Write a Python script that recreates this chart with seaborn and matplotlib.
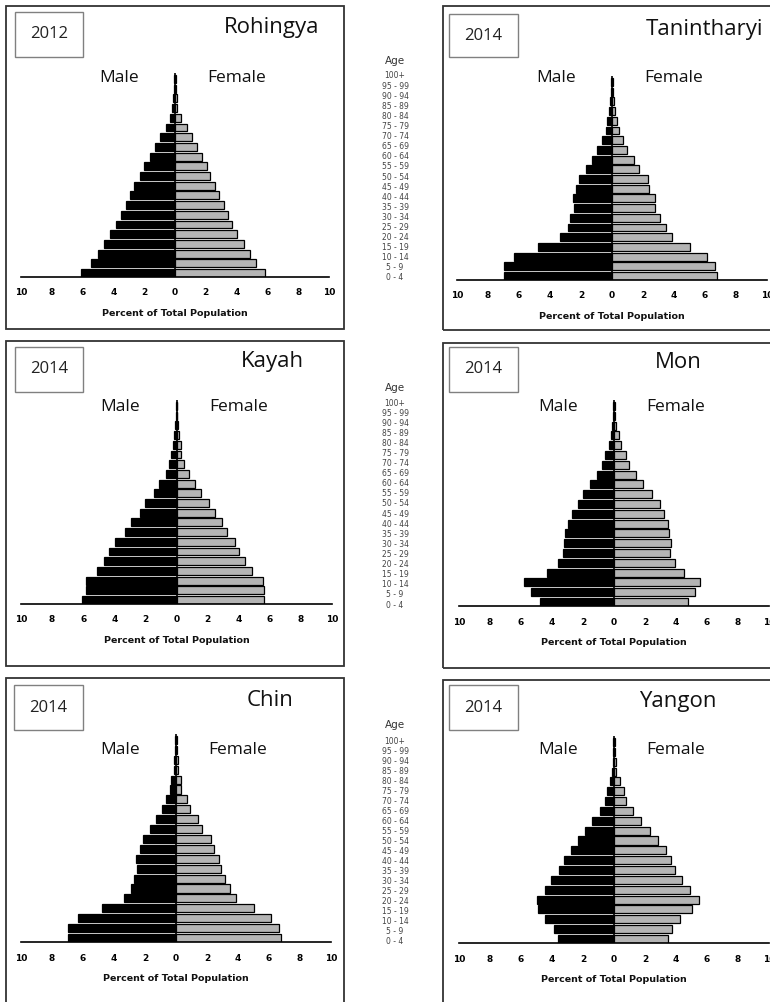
import matplotlib
matplotlib.use("Agg")
import matplotlib.pyplot as plt
from matplotlib.patches import Rectangle
import numpy as np
import pandas as pd
import seaborn as sns

W, H = 770, 1002

# age groups, youngest first
age_groups = ["0 - 4", "5 - 9", "10 - 14", "15 - 19", "20 - 24", "25 - 29", "30 - 34",
              "35 - 39", "40 - 44", "45 - 49", "50 - 54", "55 - 59", "60 - 64", "65 - 69",
              "70 - 74", "75 - 79", "80 - 84", "85 - 89", "90 - 94", "95 - 99", "100+"]

rohingya_male = [6.1, 5.45, 5.0, 4.6, 4.2, 3.85, 3.5, 3.2, 2.9, 2.65, 2.3, 2.0, 1.65, 1.3, 0.95, 0.6, 0.3, 0.2, 0.1, 0.05, 0.05]
rohingya_female = [5.85, 5.25, 4.85, 4.45, 4.05, 3.7, 3.45, 3.15, 2.85, 2.6, 2.3, 2.05, 1.75, 1.45, 1.1, 0.75, 0.4, 0.15, 0.1, 0.05, 0.05]

tanintharyi_male = [6.95, 6.95, 6.3, 4.8, 3.35, 2.85, 2.7, 2.45, 2.5, 2.3, 2.1, 1.65, 1.3, 0.95, 0.65, 0.4, 0.3, 0.2, 0.1, 0.05, 0.05]
tanintharyi_female = [6.75, 6.65, 6.15, 5.0, 3.9, 3.5, 3.1, 2.8, 2.8, 2.4, 2.3, 1.75, 1.4, 0.95, 0.7, 0.45, 0.3, 0.2, 0.1, 0.05, 0.05]

kayah_male = [6.05, 5.8, 5.8, 5.1, 4.65, 4.35, 3.95, 3.3, 2.9, 2.35, 2.0, 1.45, 1.15, 0.7, 0.5, 0.35, 0.2, 0.15, 0.1, 0.05, 0.05]
kayah_female = [5.65, 5.65, 5.55, 4.85, 4.4, 4.05, 3.75, 3.25, 2.95, 2.5, 2.1, 1.6, 1.2, 0.8, 0.5, 0.3, 0.3, 0.15, 0.1, 0.05, 0.05]

mon_male = [4.8, 5.35, 5.8, 4.3, 3.6, 3.3, 3.25, 3.15, 2.95, 2.7, 2.35, 2.0, 1.55, 1.1, 0.75, 0.55, 0.3, 0.2, 0.1, 0.05, 0.05]
mon_female = [4.75, 5.2, 5.55, 4.5, 3.95, 3.6, 3.65, 3.55, 3.5, 3.25, 2.95, 2.45, 1.85, 1.4, 0.95, 0.8, 0.45, 0.3, 0.15, 0.05, 0.05]

chin_male = [6.95, 6.95, 6.3, 4.8, 3.35, 2.9, 2.7, 2.5, 2.55, 2.3, 2.1, 1.65, 1.3, 0.9, 0.65, 0.4, 0.3, 0.15, 0.1, 0.05, 0.05]
chin_female = [6.8, 6.65, 6.15, 5.0, 3.9, 3.5, 3.15, 2.9, 2.8, 2.45, 2.25, 1.7, 1.4, 0.9, 0.7, 0.35, 0.3, 0.15, 0.1, 0.05, 0.05]

yangon_male = [3.6, 3.9, 4.45, 4.9, 5.0, 4.45, 4.05, 3.55, 3.25, 2.8, 2.35, 1.85, 1.4, 0.9, 0.6, 0.45, 0.25, 0.1, 0.05, 0.05, 0.05]
yangon_female = [3.5, 3.75, 4.25, 5.0, 5.5, 4.9, 4.4, 3.95, 3.65, 3.35, 2.85, 2.3, 1.75, 1.2, 0.8, 0.65, 0.4, 0.15, 0.1, 0.05, 0.05]

x_ticks = [-10, -8, -6, -4, -2, 0, 2, 4, 6, 8, 10]

sns.set_style("white")
plt.rcParams["font.family"] = ["DejaVu Sans"]

fig = plt.figure(figsize=(W / 100, H / 100), dpi=100)


def fx(x):
    return x / W


def fy(y):
    return 1 - y / H


def box(x0, y0, x1, y1, color, lw):
    fig.add_artist(Rectangle((fx(x0), fy(y1)), fx(x1 - x0), (y1 - y0) / H,
                             transform=fig.transFigure, fill=False,
                             edgecolor=color, linewidth=lw))


def text(x, y, s, size, **kw):
    fig.text(fx(x), fy(y), s, fontsize=size, ha="center", va="center", **kw)


# one dict per panel: data plus where things sit (pixels from top-left)
panels = [
    dict(name="Rohingya", year="2012", male=rohingya_male, female=rohingya_female,
         frame=(6, 6, 344, 329), ax=(21, 329, 79, 273), yearbox=(15, 12, 83, 57),
         title=(272, 28), sex_y=78),
    dict(name="Tanintharyi", year="2014", male=tanintharyi_male, female=tanintharyi_female,
         frame=(443, 6, 790, 330), ax=(457, 767, 82, 276), yearbox=(449, 14, 518, 57),
         title=(705, 30), sex_y=78),
    dict(name="Kayah", year="2014", male=kayah_male, female=kayah_female,
         frame=(6, 341, 344, 666), ax=(21, 332, 406, 600), yearbox=(15, 347, 83, 392),
         title=(272, 362), sex_y=407),
    dict(name="Mon", year="2014", male=mon_male, female=mon_female,
         frame=(443, 343, 790, 668), ax=(459, 769, 406, 602), yearbox=(449, 347, 518, 392),
         title=(678, 363), sex_y=407),
    dict(name="Chin", year="2014", male=chin_male, female=chin_female,
         frame=(6, 678, 344, 1010), ax=(21, 331, 740, 938), yearbox=(14, 685, 83, 730),
         title=(270, 700), sex_y=750),
    dict(name="Yangon", year="2014", male=yangon_male, female=yangon_female,
         frame=(443, 680, 790, 1010), ax=(459, 769, 742, 939), yearbox=(449, 685, 518, 730),
         title=(678, 701), sex_y=750),
]

order = age_groups[::-1]

for p in panels:
    box(*p["frame"], color="#333333", lw=1.3)
    box(*p["yearbox"], color="#808080", lw=1.0)
    yb = p["yearbox"]
    text((yb[0] + yb[2]) / 2, (yb[1] + yb[3]) / 2, p["year"], 12, family="Open Sans", color="#222222")
    text(p["title"][0], p["title"][1], p["name"], 16, family="Open Sans", color="#111111")

    x0, x1, y0, y20 = p["ax"]
    s = (y20 - y0) / 20
    top = y0 - 0.6 * s
    bottom = y20 + 0.45 * s
    ax = fig.add_axes([fx(x0), fy(bottom), fx(x1 - x0), (bottom - top) / H])

    df = pd.DataFrame({"age": age_groups, "male": p["male"], "female": p["female"]})
    df["male_neg"] = -df["male"]
    sns.barplot(data=df, x="male_neg", y="age", order=order, orient="h", color="black",
                edgecolor="black", linewidth=0.9, width=0.82, saturation=1, ax=ax)
    sns.barplot(data=df, x="female", y="age", order=order, orient="h", color="#b4b4b4",
                edgecolor="black", linewidth=0.9, width=0.82, saturation=1, ax=ax)
    ax.axvline(0, color="black", lw=1.2)
    ax.set_xlim(-10, 10)
    ax.set_ylim(20 + 0.45, -0.6)
    ax.set_yticks([])
    ax.set_xticks(x_ticks)
    ax.set_xticklabels([str(abs(t)) for t in x_ticks], fontsize=6.5, fontweight="bold")
    ax.tick_params(axis="x", direction="in", length=4, width=1.2, pad=8, colors="black")
    ax.set_xlabel("")
    ax.set_ylabel("")
    for side in ["left", "right", "top"]:
        ax.spines[side].set_visible(False)
    ax.spines["bottom"].set_linewidth(1.2)
    ax.spines["bottom"].set_color("black")
    ax.patch.set_alpha(0)

    zero_x = x0 + (x1 - x0) / 2
    text(zero_x - 56, p["sex_y"], "Male", 12.5, family="Open Sans", color="#111111")
    text(zero_x + 62, p["sex_y"], "Female", 12.5, family="Open Sans", color="#111111")
    text(zero_x, bottom + 36, "Percent of Total Population", 6.8, fontweight="bold", color="#111111")

# age label columns between the two panel columns
age_columns = [(61, 76, 278), (388, 403, 605), (725, 741, 942)]
for head_y, first_y, last_y in age_columns:
    text(395, head_y, "Age", 7.5, color="#333333")
    step = (last_y - first_y) / 20
    for i, lab in enumerate(order):
        text(395, first_y + i * step, lab, 5.5, color="#444444")

fig.savefig("out.png", dpi=100)
